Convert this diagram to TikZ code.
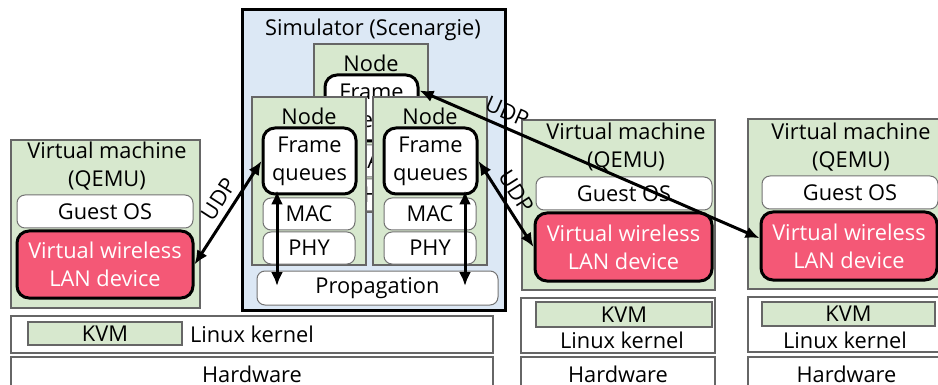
\documentclass[tikz,border=0pt]{standalone}
\usepackage{fontspec}
\setmainfont{Open Sans}
\usetikzlibrary{arrows.meta,positioning}
\definecolor{vmgreen}{HTML}{D7E8CE}
\definecolor{simblue}{HTML}{DCE8F5}
\definecolor{devred}{HTML}{F45876}

\begin{document}
\begin{tikzpicture}[
x=0.5pt, y=-0.5pt,
font=\fontsize{10.9}{14}\selectfont,
every node/.style={inner sep=0pt, align=center},
simbox/.style={draw, fill=simblue, line width=1.5pt},
greenbox/.style={draw=black!60, fill=vmgreen, line width=0.6pt},
whitebox/.style={draw=black!55, fill=white, rounded corners=4pt, line width=0.5pt},
fqbox/.style={draw, fill=white, rounded corners=6pt, line width=1.5pt},
devbox/.style={draw, fill=devred, text=white, rounded corners=6pt, line width=1.5pt},
layerbox/.style={draw=black!60, fill=white, line width=0.6pt},
udp/.style={{Latex[length=7pt,width=6pt]}-{Latex[length=7pt,width=6pt]}, line width=1.5pt}
]
\useasboundingbox (0,0) rectangle (938,385);

% simulator
\node[simbox, minimum width=131.5pt, minimum height=150pt] (sim) at (373.5,160) {};
\node (simlbl) at (373,30) {Simulator (Scenargie)};
\foreach \nm/\dx/\dy in {B/62/-53, L/0/0, R/121/0}{
  \begin{scope}[shift={(\dx,\dy)}]
    \node[greenbox, minimum width=57pt, minimum height=84pt] (node\nm) at (309,181) {};
    \node (nodelbl\nm) at (309,116) {Node};
    \node[fqbox, minimum width=46.5pt, minimum height=33pt] (fq\nm) at (309.5,161) {Frame\\queues};
    \node[whitebox, minimum width=46pt, minimum height=16pt] (mac\nm) at (309,214) {MAC};
    \node[whitebox, minimum width=46pt, minimum height=16pt] (phy\nm) at (309,248) {PHY};
  \end{scope}
}
\node[whitebox, minimum width=120.5pt, minimum height=17pt] (prop) at (377.5,288) {Propagation};
\draw[udp] ([xshift=-16.25pt,yshift=2.5pt]fqL.south) -- ([xshift=-16.25pt,yshift=1pt]fqL.south |- prop.center);
\draw[udp] ([xshift=17.25pt,yshift=2.5pt]fqR.south) -- ([xshift=17.25pt,yshift=1pt]fqR.south |- prop.center);

% virtual machines
\node[greenbox, minimum width=94.5pt, minimum height=84pt] (vmA) at (105.5,224) {};
\node (vmlblA) at (107,166) {Virtual machine\\(QEMU)};
\node[whitebox, minimum width=88pt, minimum height=16.5pt] (guestA) at (105,211.5) {Guest OS};
\node[devbox, minimum width=88pt, minimum height=33.5pt] (devA) at (105,264.5) {Virtual wireless\\LAN device};

\node[greenbox, minimum width=96.5pt, minimum height=85pt] (vmB) at (618.5,205) {};
\node (vmlblB) at (626,147.5) {Virtual machine\\(QEMU)};
\node[whitebox, minimum width=88pt, minimum height=16.5pt] (guestB) at (624,193.5) {Guest OS};
\node[devbox, minimum width=88.5pt, minimum height=34pt] (devB) at (623.5,247) {Virtual wireless\\LAN device};

\node[greenbox, minimum width=96.5pt, minimum height=85pt] (vmC) at (844.5,204) {};
\node (vmlblC) at (851,147) {Virtual machine\\(QEMU)};
\node[whitebox, minimum width=88pt, minimum height=16.5pt] (guestC) at (850,192.5) {Guest OS};
\node[devbox, minimum width=88pt, minimum height=34pt] (devC) at (849,246) {Virtual wireless\\LAN device};

% host layers
\node[layerbox, minimum width=241pt, minimum height=18.5pt] (kernA) at (252,334.5) {Linux kernel};
\node[greenbox, minimum width=77pt, minimum height=11.5pt] (kvmA) at (105,333.5) {KVM};
\node[layerbox, minimum width=241pt, minimum height=17.5pt] (hwA) at (252,374.5) {Hardware};

\node[layerbox, minimum width=97pt, minimum height=27.5pt] (kernB) at (618,325.5) {};
\node[greenbox, minimum width=88pt, minimum height=12.5pt] (kvmB) at (624,314.5) {KVM};
\node (kernlblB) at (622,340) {Linux kernel};
\node[layerbox, minimum width=97pt, minimum height=17.5pt] (hwB) at (618,374.5) {Hardware};

\node[layerbox, minimum width=98.5pt, minimum height=27.5pt] (kernC) at (846.5,324.5) {};
\node[greenbox, minimum width=86.5pt, minimum height=12pt] (kvmC) at (848.5,314) {KVM};
\node (kernlblC) at (845,340) {Linux kernel};
\node[layerbox, minimum width=98.5pt, minimum height=17.5pt] (hwC) at (846.5,374.5) {Hardware};

% UDP links
\draw[udp] (devA.east) -- node[sloped, above=3pt, pos=0.55] {UDP} (fqL.west);
\draw[udp] (fqB.20) -- node[sloped, above=3pt, pos=0.24] {UDP} (devC.175);
\draw[udp] (fqR.east) -- node[sloped, above=3pt, pos=0.45] {UDP} (devB.west);
\end{tikzpicture}
\end{document}
